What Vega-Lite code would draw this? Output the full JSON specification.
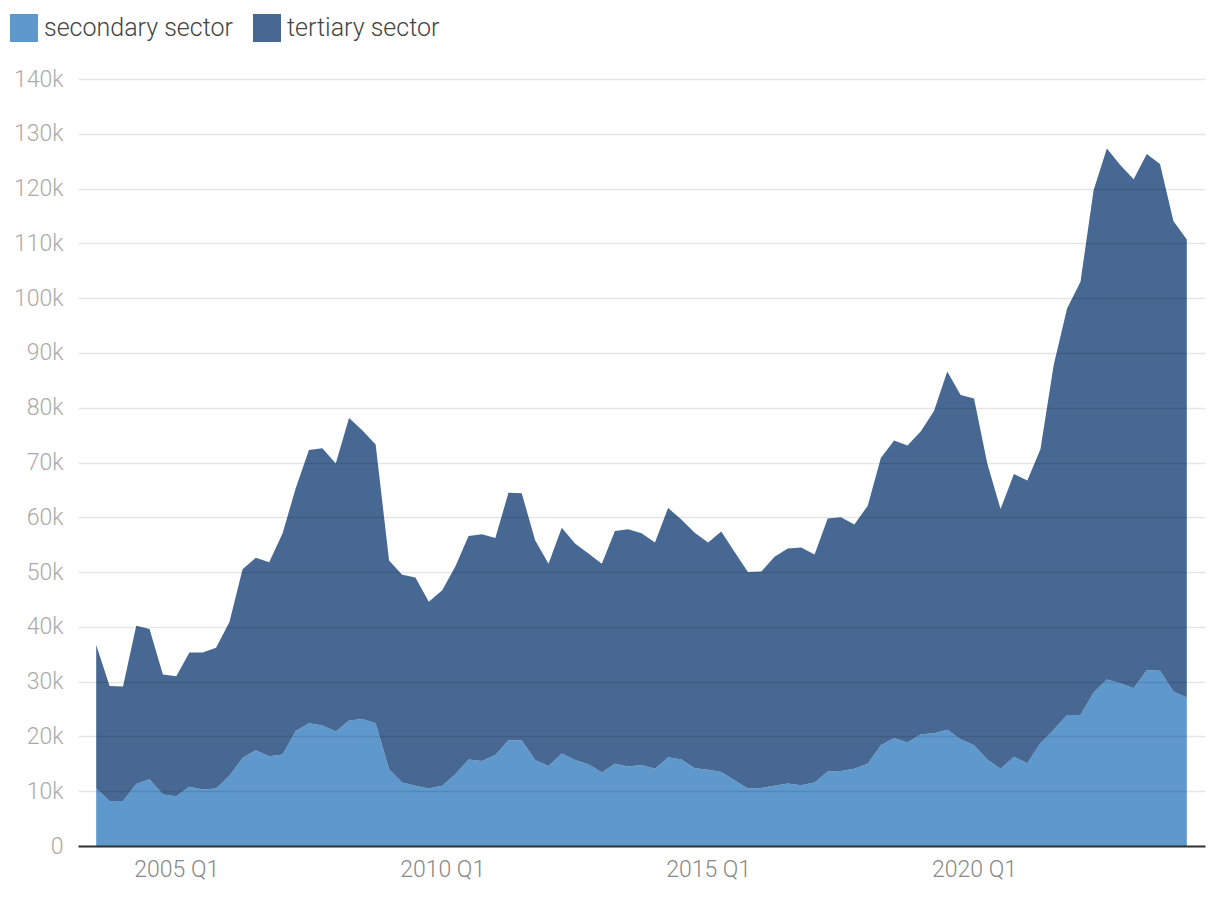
{
"$schema": "https://vega.github.io/schema/vega-lite/v6.json",
"width": 1127,
"height": 767,
"autosize": {"type": "none"},
"padding": {"left": 78, "top": 79, "right": 15, "bottom": 52},
"background": "white",
"config": {"view": {"stroke": null}, "font": "Roboto"},
"data": {"values": [
{"date":"2003-07-01","sector":"secondary sector","value":10500},{"date":"2003-07-01","sector":"tertiary sector","value":26200},
{"date":"2003-10-01","sector":"secondary sector","value":8200},{"date":"2003-10-01","sector":"tertiary sector","value":21000},
{"date":"2004-01-01","sector":"secondary sector","value":8200},{"date":"2004-01-01","sector":"tertiary sector","value":20900},
{"date":"2004-04-01","sector":"secondary sector","value":11300},{"date":"2004-04-01","sector":"tertiary sector","value":28900},
{"date":"2004-07-01","sector":"secondary sector","value":12200},{"date":"2004-07-01","sector":"tertiary sector","value":27400},
{"date":"2004-10-01","sector":"secondary sector","value":9400},{"date":"2004-10-01","sector":"tertiary sector","value":21900},
{"date":"2005-01-01","sector":"secondary sector","value":9100},{"date":"2005-01-01","sector":"tertiary sector","value":21900},
{"date":"2005-04-01","sector":"secondary sector","value":10800},{"date":"2005-04-01","sector":"tertiary sector","value":24500},
{"date":"2005-07-01","sector":"secondary sector","value":10300},{"date":"2005-07-01","sector":"tertiary sector","value":25000},
{"date":"2005-10-01","sector":"secondary sector","value":10500},{"date":"2005-10-01","sector":"tertiary sector","value":25700},
{"date":"2006-01-01","sector":"secondary sector","value":12800},{"date":"2006-01-01","sector":"tertiary sector","value":28100},
{"date":"2006-04-01","sector":"secondary sector","value":16100},{"date":"2006-04-01","sector":"tertiary sector","value":34400},
{"date":"2006-07-01","sector":"secondary sector","value":17500},{"date":"2006-07-01","sector":"tertiary sector","value":35100},
{"date":"2006-10-01","sector":"secondary sector","value":16400},{"date":"2006-10-01","sector":"tertiary sector","value":35400},
{"date":"2007-01-01","sector":"secondary sector","value":16700},{"date":"2007-01-01","sector":"tertiary sector","value":40400},
{"date":"2007-04-01","sector":"secondary sector","value":21000},{"date":"2007-04-01","sector":"tertiary sector","value":44300},
{"date":"2007-07-01","sector":"secondary sector","value":22400},{"date":"2007-07-01","sector":"tertiary sector","value":49900},
{"date":"2007-10-01","sector":"secondary sector","value":22000},{"date":"2007-10-01","sector":"tertiary sector","value":50600},
{"date":"2008-01-01","sector":"secondary sector","value":20900},{"date":"2008-01-01","sector":"tertiary sector","value":48900},
{"date":"2008-04-01","sector":"secondary sector","value":22900},{"date":"2008-04-01","sector":"tertiary sector","value":55200},
{"date":"2008-07-01","sector":"secondary sector","value":23200},{"date":"2008-07-01","sector":"tertiary sector","value":52700},
{"date":"2008-10-01","sector":"secondary sector","value":22400},{"date":"2008-10-01","sector":"tertiary sector","value":50900},
{"date":"2009-01-01","sector":"secondary sector","value":14000},{"date":"2009-01-01","sector":"tertiary sector","value":38100},
{"date":"2009-04-01","sector":"secondary sector","value":11600},{"date":"2009-04-01","sector":"tertiary sector","value":37900},
{"date":"2009-07-01","sector":"secondary sector","value":11000},{"date":"2009-07-01","sector":"tertiary sector","value":38000},
{"date":"2009-10-01","sector":"secondary sector","value":10500},{"date":"2009-10-01","sector":"tertiary sector","value":34100},
{"date":"2010-01-01","sector":"secondary sector","value":11000},{"date":"2010-01-01","sector":"tertiary sector","value":35700},
{"date":"2010-04-01","sector":"secondary sector","value":13100},{"date":"2010-04-01","sector":"tertiary sector","value":37900},
{"date":"2010-07-01","sector":"secondary sector","value":15800},{"date":"2010-07-01","sector":"tertiary sector","value":40800},
{"date":"2010-10-01","sector":"secondary sector","value":15500},{"date":"2010-10-01","sector":"tertiary sector","value":41400},
{"date":"2011-01-01","sector":"secondary sector","value":16600},{"date":"2011-01-01","sector":"tertiary sector","value":39600},
{"date":"2011-04-01","sector":"secondary sector","value":19300},{"date":"2011-04-01","sector":"tertiary sector","value":45200},
{"date":"2011-07-01","sector":"secondary sector","value":19300},{"date":"2011-07-01","sector":"tertiary sector","value":45100},
{"date":"2011-10-01","sector":"secondary sector","value":15700},{"date":"2011-10-01","sector":"tertiary sector","value":40100},
{"date":"2012-01-01","sector":"secondary sector","value":14600},{"date":"2012-01-01","sector":"tertiary sector","value":36900},
{"date":"2012-04-01","sector":"secondary sector","value":16900},{"date":"2012-04-01","sector":"tertiary sector","value":41200},
{"date":"2012-07-01","sector":"secondary sector","value":15700},{"date":"2012-07-01","sector":"tertiary sector","value":39500},
{"date":"2012-10-01","sector":"secondary sector","value":14900},{"date":"2012-10-01","sector":"tertiary sector","value":38500},
{"date":"2013-01-01","sector":"secondary sector","value":13400},{"date":"2013-01-01","sector":"tertiary sector","value":38100},
{"date":"2013-04-01","sector":"secondary sector","value":15000},{"date":"2013-04-01","sector":"tertiary sector","value":42500},
{"date":"2013-07-01","sector":"secondary sector","value":14500},{"date":"2013-07-01","sector":"tertiary sector","value":43300},
{"date":"2013-10-01","sector":"secondary sector","value":14800},{"date":"2013-10-01","sector":"tertiary sector","value":42300},
{"date":"2014-01-01","sector":"secondary sector","value":14100},{"date":"2014-01-01","sector":"tertiary sector","value":41300},
{"date":"2014-04-01","sector":"secondary sector","value":16200},{"date":"2014-04-01","sector":"tertiary sector","value":45500},
{"date":"2014-07-01","sector":"secondary sector","value":15800},{"date":"2014-07-01","sector":"tertiary sector","value":43800},
{"date":"2014-10-01","sector":"secondary sector","value":14200},{"date":"2014-10-01","sector":"tertiary sector","value":43000},
{"date":"2015-01-01","sector":"secondary sector","value":13900},{"date":"2015-01-01","sector":"tertiary sector","value":41500},
{"date":"2015-04-01","sector":"secondary sector","value":13500},{"date":"2015-04-01","sector":"tertiary sector","value":43900},
{"date":"2015-07-01","sector":"secondary sector","value":12000},{"date":"2015-07-01","sector":"tertiary sector","value":41700},
{"date":"2015-10-01","sector":"secondary sector","value":10500},{"date":"2015-10-01","sector":"tertiary sector","value":39500},
{"date":"2016-01-01","sector":"secondary sector","value":10600},{"date":"2016-01-01","sector":"tertiary sector","value":39500},
{"date":"2016-04-01","sector":"secondary sector","value":11000},{"date":"2016-04-01","sector":"tertiary sector","value":41800},
{"date":"2016-07-01","sector":"secondary sector","value":11400},{"date":"2016-07-01","sector":"tertiary sector","value":42900},
{"date":"2016-10-01","sector":"secondary sector","value":11100},{"date":"2016-10-01","sector":"tertiary sector","value":43400},
{"date":"2017-01-01","sector":"secondary sector","value":11600},{"date":"2017-01-01","sector":"tertiary sector","value":41600},
{"date":"2017-04-01","sector":"secondary sector","value":13600},{"date":"2017-04-01","sector":"tertiary sector","value":46200},
{"date":"2017-07-01","sector":"secondary sector","value":13700},{"date":"2017-07-01","sector":"tertiary sector","value":46300},
{"date":"2017-10-01","sector":"secondary sector","value":14100},{"date":"2017-10-01","sector":"tertiary sector","value":44600},
{"date":"2018-01-01","sector":"secondary sector","value":15000},{"date":"2018-01-01","sector":"tertiary sector","value":47100},
{"date":"2018-04-01","sector":"secondary sector","value":18400},{"date":"2018-04-01","sector":"tertiary sector","value":52400},
{"date":"2018-07-01","sector":"secondary sector","value":19700},{"date":"2018-07-01","sector":"tertiary sector","value":54300},
{"date":"2018-10-01","sector":"secondary sector","value":18900},{"date":"2018-10-01","sector":"tertiary sector","value":54200},
{"date":"2019-01-01","sector":"secondary sector","value":20400},{"date":"2019-01-01","sector":"tertiary sector","value":55300},
{"date":"2019-04-01","sector":"secondary sector","value":20600},{"date":"2019-04-01","sector":"tertiary sector","value":58800},
{"date":"2019-07-01","sector":"secondary sector","value":21200},{"date":"2019-07-01","sector":"tertiary sector","value":65400},
{"date":"2019-10-01","sector":"secondary sector","value":19500},{"date":"2019-10-01","sector":"tertiary sector","value":62800},
{"date":"2020-01-01","sector":"secondary sector","value":18400},{"date":"2020-01-01","sector":"tertiary sector","value":63300},
{"date":"2020-04-01","sector":"secondary sector","value":15800},{"date":"2020-04-01","sector":"tertiary sector","value":54000},
{"date":"2020-07-01","sector":"secondary sector","value":14100},{"date":"2020-07-01","sector":"tertiary sector","value":47400},
{"date":"2020-10-01","sector":"secondary sector","value":16300},{"date":"2020-10-01","sector":"tertiary sector","value":51600},
{"date":"2021-01-01","sector":"secondary sector","value":15100},{"date":"2021-01-01","sector":"tertiary sector","value":51600},
{"date":"2021-04-01","sector":"secondary sector","value":18800},{"date":"2021-04-01","sector":"tertiary sector","value":53600},
{"date":"2021-07-01","sector":"secondary sector","value":21200},{"date":"2021-07-01","sector":"tertiary sector","value":66600},
{"date":"2021-10-01","sector":"secondary sector","value":23900},{"date":"2021-10-01","sector":"tertiary sector","value":74200},
{"date":"2022-01-01","sector":"secondary sector","value":23900},{"date":"2022-01-01","sector":"tertiary sector","value":79100},
{"date":"2022-04-01","sector":"secondary sector","value":28000},{"date":"2022-04-01","sector":"tertiary sector","value":91700},
{"date":"2022-07-01","sector":"secondary sector","value":30400},{"date":"2022-07-01","sector":"tertiary sector","value":96900},
{"date":"2022-10-01","sector":"secondary sector","value":29700},{"date":"2022-10-01","sector":"tertiary sector","value":94600},
{"date":"2023-01-01","sector":"secondary sector","value":28800},{"date":"2023-01-01","sector":"tertiary sector","value":92900},
{"date":"2023-04-01","sector":"secondary sector","value":32100},{"date":"2023-04-01","sector":"tertiary sector","value":94200},
{"date":"2023-07-01","sector":"secondary sector","value":32000},{"date":"2023-07-01","sector":"tertiary sector","value":92500},
{"date":"2023-10-01","sector":"secondary sector","value":28200},{"date":"2023-10-01","sector":"tertiary sector","value":85900},
{"date":"2024-01-01","sector":"secondary sector","value":27100},{"date":"2024-01-01","sector":"tertiary sector","value":83600}
]},
"mark": {"type": "area", "opacity": 1},
"encoding": {
  "x": {"field": "date", "type": "temporal",
        "scale": {"type": "utc", "domain": [{"year": 2003, "month": 2, "date": 26, "utc": true}, {"year": 2024, "month": 5, "date": 5, "utc": true}]},
        "axis": {"title": null, "format": "%Y Q%q",
                 "values": [{"year": 2005, "month": 1, "date": 1, "utc": true}, {"year": 2010, "month": 1, "date": 1, "utc": true}, {"year": 2015, "month": 1, "date": 1, "utc": true}, {"year": 2020, "month": 1, "date": 1, "utc": true}],
                 "labelAngle": 0, "ticks": false, "grid": false,
                 "domain": true, "domainColor": "#333333", "domainWidth": 2, "labelColor": "#888888", "labelFontSize": 23,
                 "labelFontWeight": 300, "labelPadding": 12, "zindex": 1}},
  "y": {"field": "value", "type": "quantitative", "stack": "zero", "scale": {"domain": [0, 140000], "nice": false},
        "axis": {"title": null, "values": [0,10000,20000,30000,40000,50000,60000,70000,80000,90000,100000,110000,120000,130000,140000],
                 "labelExpr": "datum.value == 0 ? '0' : format(datum.value / 1000, 'd') + 'k'",
                 "domain": false, "ticks": false, "grid": true, "gridColor": "#000000", "gridOpacity": 0.1, "gridWidth": 1.5,
                 "labelColor": "#aaaaaa", "labelFontSize": 23, "labelFontWeight": 300, "labelPadding": 15, "zindex": 1}},
  "color": {"field": "sector", "type": "nominal",
            "scale": {"domain": ["secondary sector", "tertiary sector"], "range": ["#5e98cc", "#476892"]},
            "legend": {"title": null, "orient": "none", "legendX": -68, "legendY": -65, "direction": "horizontal",
                       "symbolType": "square", "symbolSize": 784, "symbolStrokeWidth": 0, "symbolOpacity": 1,
                       "labelFontSize": 25, "labelFontWeight": 300, "labelColor": "#444444", "labelOffset": 6, "columnPadding": 20, "labelLimit": 400}},
  "order": {"field": "sector", "sort": "ascending"}
}
}
